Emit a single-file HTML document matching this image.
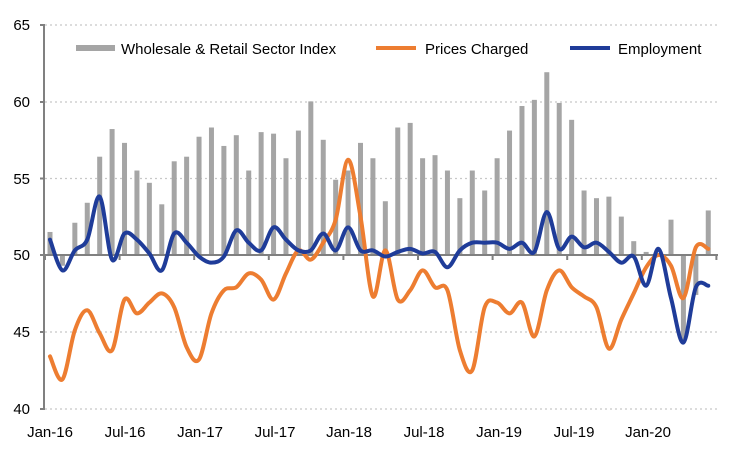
<!DOCTYPE html>
<html><head><meta charset="utf-8"><style>
body{margin:0;background:#fff}
svg{display:block;font-family:"Liberation Sans",Arial,sans-serif}
</style></head><body>
<svg id="s" width="750" height="450" viewBox="0 0 750 450" xmlns="http://www.w3.org/2000/svg">
<g stroke="#c8c8c8" stroke-width="1.3" stroke-dasharray="2,3">
<line x1="45" y1="25" x2="718" y2="25"/>
<line x1="45" y1="102" x2="718" y2="102"/>
<line x1="45" y1="178.5" x2="718" y2="178.5"/>
<line x1="45" y1="332" x2="718" y2="332"/>
<line x1="45" y1="409" x2="718" y2="409"/>
</g>
<g id="bars" fill="#a5a5a5"></g>
<g stroke="#808080" stroke-width="2" fill="none">
<line x1="44" y1="24" x2="44" y2="410"/>
<line x1="40" y1="25" x2="44" y2="25"/><line x1="40" y1="102" x2="44" y2="102"/>
<line x1="40" y1="178.5" x2="44" y2="178.5"/><line x1="40" y1="255" x2="44" y2="255"/>
<line x1="40" y1="332" x2="44" y2="332"/><line x1="40" y1="409" x2="44" y2="409"/>
<line x1="44" y1="255" x2="718" y2="255"/>
</g>
<g id="ticks" stroke="#808080" stroke-width="2"></g>
<path id="po" fill="none" stroke="#ed7d31" stroke-width="4" stroke-linejoin="round" stroke-linecap="round"/>
<path id="pb" fill="none" stroke="#1f3c99" stroke-width="4" stroke-linejoin="round" stroke-linecap="round"/>
<g font-size="15" fill="#000" text-anchor="end">
<text x="30" y="30">65</text><text x="30" y="107">60</text><text x="30" y="184">55</text>
<text x="30" y="260">50</text><text x="30" y="337">45</text><text x="30" y="414">40</text>
</g>
<g font-size="15" fill="#000" text-anchor="middle">
<text x="50" y="437">Jan-16</text><text x="125" y="437">Jul-16</text><text x="200" y="437">Jan-17</text>
<text x="275" y="437">Jul-17</text><text x="349" y="437">Jan-18</text><text x="424" y="437">Jul-18</text>
<text x="499" y="437">Jan-19</text><text x="574" y="437">Jul-19</text><text x="648" y="437">Jan-20</text>
</g>
<rect x="76" y="45" width="39" height="6" fill="#a5a5a5"/>
<text x="121" y="54" font-size="15">Wholesale &amp; Retail Sector Index</text>
<line x1="376" y1="48" x2="416" y2="48" stroke="#ed7d31" stroke-width="4"/>
<text x="425" y="54" font-size="15">Prices Charged</text>
<line x1="570" y1="48" x2="610" y2="48" stroke="#1f3c99" stroke-width="4"/>
<text x="618" y="54" font-size="15">Employment</text>
</svg>
<script>
var bars=[51.5,49.3,52.1,53.4,56.4,58.2,57.3,55.5,54.7,53.3,56.1,56.4,57.7,58.3,57.1,57.8,55.5,58.0,57.9,56.3,58.1,60.0,57.5,54.9,55.5,57.3,56.3,53.5,58.3,58.6,56.3,56.5,55.5,53.7,55.5,54.2,56.3,58.1,59.7,60.1,61.9,59.9,58.8,54.2,53.7,53.8,52.5,50.9,50.2,50.0,52.3,44.3,47.4,52.9];
var o=[43.4,41.9,45.1,46.4,44.9,43.8,47.1,46.2,46.9,47.5,46.6,44.0,43.2,46.2,47.7,47.9,48.8,48.4,47.1,48.8,50.3,49.7,50.8,52.3,56.2,52.5,47.3,50.3,47.1,47.7,49.0,47.9,47.7,43.8,42.5,46.6,46.9,46.2,46.9,44.7,47.7,49.0,47.9,47.3,46.6,43.9,45.8,47.5,49.2,50.0,49.3,47.2,50.5,50.4];
var b=[51.0,49.0,50.3,51.0,53.8,49.7,51.4,51.0,50.1,49.0,51.4,50.8,49.9,49.5,49.9,51.6,50.8,50.3,51.8,51.0,50.3,50.3,51.4,50.3,51.8,50.3,50.3,49.9,50.2,50.4,50.1,50.2,49.2,50.3,50.8,50.8,50.8,50.4,50.8,50.2,52.8,50.4,51.2,50.5,50.8,50.2,49.5,49.9,48.0,50.4,47.2,44.3,47.9,48.0];
function X(i){return 50+12.42*i}
function Y(v){return 255-(v-50)*15.36}
var g=document.getElementById('bars'),h='';
bars.forEach(function(v,i){var y=Y(v);h+='<rect x="'+(X(i)-2.5)+'" y="'+Math.min(y,255)+'" width="5" height="'+Math.abs(y-255)+'"/>';});
g.innerHTML=h;
var t='';for(var k=0;k<=9;k++){var x=45+k*74.6;t+='<line x1="'+x+'" y1="255" x2="'+x+'" y2="260"/>';}
document.getElementById('ticks').innerHTML=t;
function path(a){var p=a.map(function(v,i){return[X(i),Y(v)]});var d='M'+p[0][0]+','+p[0][1];
for(var i=0;i<p.length-1;i++){var p0=p[i-1]||p[i],p1=p[i],p2=p[i+1],p3=p[i+2]||p2;
d+=' C'+(p1[0]+(p2[0]-p0[0])/6)+','+(p1[1]+(p2[1]-p0[1])/6)+' '+(p2[0]-(p3[0]-p1[0])/6)+','+(p2[1]-(p3[1]-p1[1])/6)+' '+p2[0]+','+p2[1];}
return d;}
document.getElementById('po').setAttribute('d',path(o));
document.getElementById('pb').setAttribute('d',path(b));
</script>
</body></html>
